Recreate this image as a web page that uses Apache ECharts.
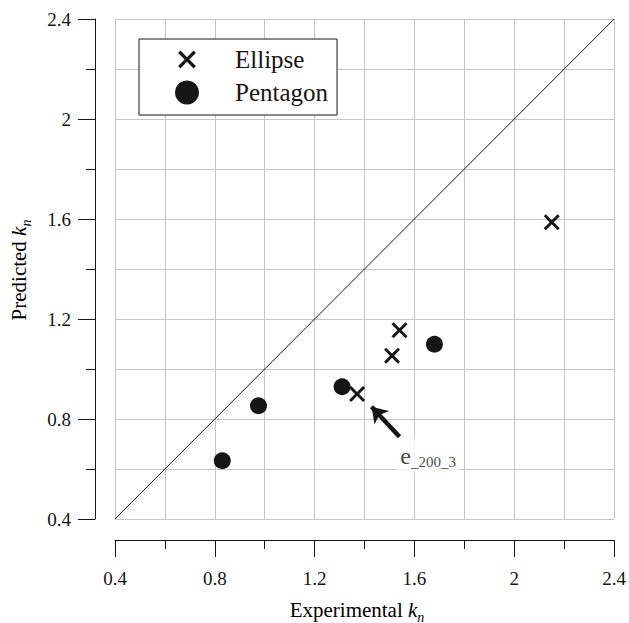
<!DOCTYPE html>
<html><head><meta charset="utf-8">
<script src="https://cdn.jsdelivr.net/npm/echarts@6/dist/echarts.min.js"></script>
<style>html,body{margin:0;padding:0;background:#fff;} #c{width:629px;height:623px;}</style>
</head><body><div id="c"></div>
<script>
// ---- data ----
const axisMin = 0.4, axisMax = 2.4, gridStep = 0.2, labelStep = 0.4;
const seriesNames = ['Ellipse', 'Pentagon'];
const ellipseX = [2.15, 1.54, 1.51, 1.37];
const ellipseY = [1.587, 1.155, 1.053, 0.90];
const pentagonX = [0.83, 0.975, 1.31, 1.68];
const pentagonY = [0.633, 0.853, 0.929, 1.099];
const parityX = [0.4, 2.4];
const parityY = [0.4, 2.4];
const arrowFrom = [1.54, 0.729];
const arrowTo = [1.428, 0.849];
const noteMain = 'e';
const noteSub = '_200_3';
const notePos = [1.655, 0.654];
const xTitle = 'Experimental ';
const yTitle = 'Predicted ';
const titleVar = 'k', titleSub = 'n';

// ---- chart ----
const FONT = 'Liberation Serif';
const INK = '#151515';
const xPath = 'path://M2.6,0L10,7.4L17.4,0L20,2.6L12.6,10L20,17.4L17.4,20L10,12.6L2.6,20L0,17.4L7.4,10L0,2.6Z';
const xPathLegend = 'path://M-3.5,-3.5M23.5,23.5M2.6,0L10,7.4L17.4,0L20,2.6L12.6,10L20,17.4L17.4,20L10,12.6L2.6,20L0,17.4L7.4,10L0,2.6Z';

const zip = (xs, ys) => xs.map((x, i) => [x, ys[i]]);
const titleRich = {
  a: {fontFamily: FONT, fontSize: 21, color: INK, lineHeight: 28, verticalAlign: 'middle'},
  k: {fontFamily: FONT, fontSize: 21, fontStyle: 'italic', color: INK, lineHeight: 28, verticalAlign: 'middle'},
  n: {fontFamily: FONT, fontSize: 14, fontStyle: 'italic', color: INK, lineHeight: 14, verticalAlign: 'bottom'}
};

const chart = echarts.init(document.getElementById('c'), null, {renderer: 'svg'});
const gridAxis = {
  type: 'value', min: axisMin, max: axisMax, interval: gridStep,
  axisLine: {show: false}, axisTick: {show: false}, axisLabel: {show: false},
  splitLine: {show: true, lineStyle: {color: '#c6c6c6', width: 1}}
};
const tickAxis = (pos, offset, margin) => ({
  type: 'value', min: axisMin, max: axisMax, interval: labelStep, position: pos, offset: offset,
  axisLine: {show: true, lineStyle: {color: INK, width: 1}},
  axisTick: {show: true, inside: false, length: 17, lineStyle: {color: INK, width: 1}},
  minorTick: {show: true, splitNumber: 2, length: 9, lineStyle: {color: INK, width: 1}},
  axisLabel: {margin: margin, fontFamily: FONT, fontSize: 19, color: INK},
  splitLine: {show: false}, minorSplitLine: {show: false}
});

chart.setOption({
  animation: false,
  backgroundColor: '#fff',
  grid: {left: 115, top: 19, width: 500, height: 500, containLabel: false},
  xAxis: [Object.assign({position: 'bottom'}, gridAxis), tickAxis('bottom', 21, 29)],
  yAxis: [Object.assign({position: 'left'}, gridAxis), tickAxis('left', 20, 24)],
  legend: {
    left: 139, top: 39, orient: 'vertical',
    itemWidth: 24, itemHeight: 24, itemGap: 8,
    padding: [8, 9, 10, 36],
    borderColor: INK, borderWidth: 1, backgroundColor: '#fff',
    textStyle: {fontFamily: FONT, fontSize: 25, color: INK, lineHeight: 24, padding: [0, 0, 0, 31]},
    data: [{name: seriesNames[0], icon: xPathLegend}, {name: seriesNames[1], icon: 'circle'}]
  },
  graphic: [
    {type: 'text', x: 357, y: 610, style: {text: `{a|${xTitle}}{k|${titleVar}}{n|${titleSub}}`, rich: titleRich, align: 'center', verticalAlign: 'middle'}},
    {type: 'text', x: 19, y: 270, rotation: Math.PI / 2, style: {text: `{a|${yTitle}}{k|${titleVar}}{n|${titleSub}}`, rich: titleRich, align: 'center', verticalAlign: 'middle'}}
  ],
  series: [
    {type: 'line', name: 'parity', data: zip(parityX, parityY), symbol: 'none', silent: true,
     lineStyle: {color: INK, width: 1}, z: 2},
    {type: 'scatter', name: seriesNames[1], data: zip(pentagonX, pentagonY), symbol: 'circle', symbolSize: 17,
     itemStyle: {color: INK, opacity: 1}, z: 3},
    {type: 'scatter', name: seriesNames[0], data: zip(ellipseX, ellipseY), symbol: xPath, symbolSize: 16,
     itemStyle: {color: INK, opacity: 1}, z: 4},
    {type: 'lines', name: 'arrow', coordinateSystem: 'cartesian2d', silent: true,
     data: [{coords: [arrowFrom, arrowTo]}], symbol: ['none', 'arrow'], symbolSize: 15,
     lineStyle: {color: INK, width: 4.5, opacity: 1}, z: 4},
    {type: 'scatter', name: 'note', data: [notePos], symbolSize: 0, silent: true, z: 5,
     label: {show: true, position: 'inside', formatter: `{e|${noteMain}}{s|${noteSub}}`,
       backgroundColor: '#fff', padding: [3, 4, 3, 4],
       rich: {
         e: {fontFamily: FONT, fontSize: 24, color: INK, lineHeight: 28, verticalAlign: 'middle'},
         s: {fontFamily: FONT, fontSize: 15, color: INK, lineHeight: 12, verticalAlign: 'bottom'}
       }}}
  ]
});
</script></body></html>
